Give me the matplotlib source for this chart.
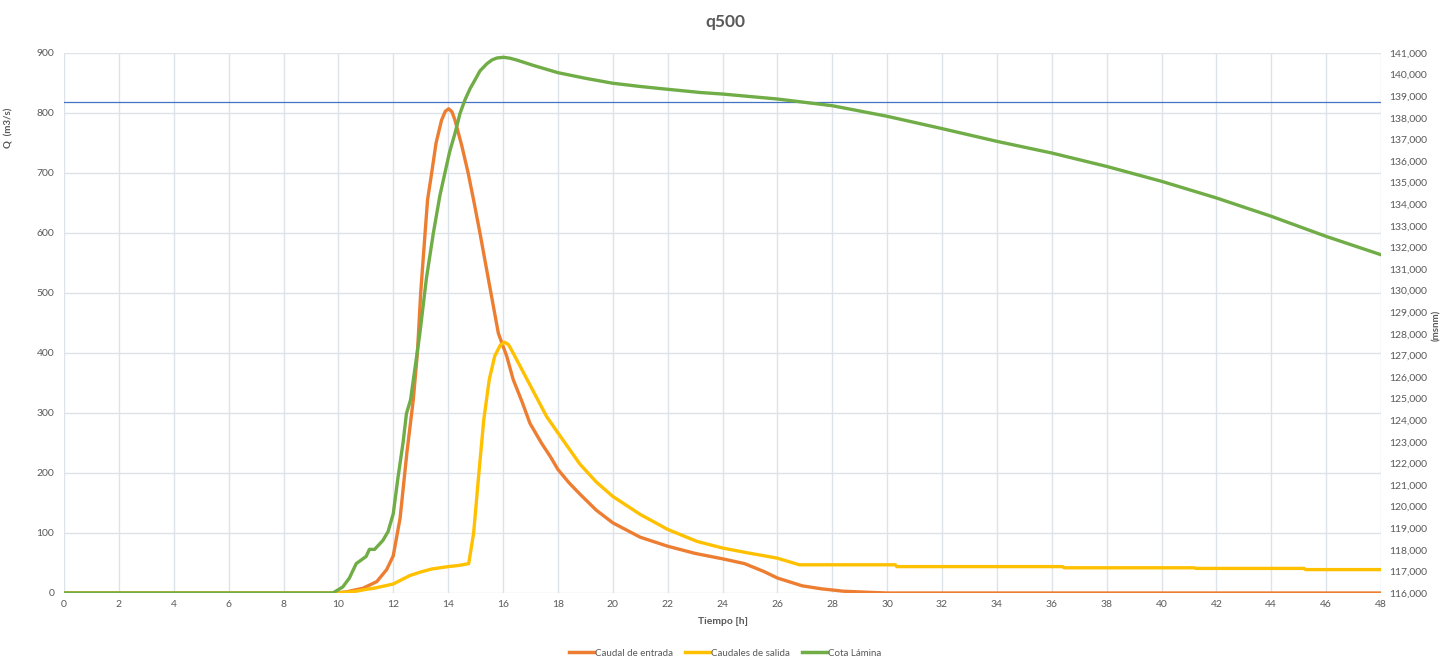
import matplotlib
matplotlib.use("Agg")
import matplotlib.pyplot as plt
from matplotlib.ticker import MultipleLocator, FuncFormatter
from matplotlib.lines import Line2D

plt.rcParams['font.family'] = ['Lato', 'DejaVu Sans']

# ---- data ----
title = "q500"
x_label = "Tiempo [h]"
y_label = "Q  (m3/s)"
y2_label = "(msnm)"
series_names = ["Caudal de entrada", "Caudales de salida", "Cota Lámina"]

t_in = [0, 9.9, 10.3, 10.9, 11.4, 11.76, 12.0, 12.25, 12.5, 12.73, 12.88, 13.0, 13.16, 13.25,
        13.4, 13.56, 13.76, 13.9, 14.02, 14.14, 14.25, 14.5, 14.73, 14.95, 15.16, 15.52, 15.83,
        16.14, 16.37, 16.7, 16.98, 17.4, 17.73, 18.0, 18.4, 18.8, 19.4, 20.0, 21.0, 22.0, 23.0,
        24.0, 24.8, 25.5, 26.0, 26.9, 27.6, 28.4, 29.4, 30.0, 48]
q_in = [0, 0, 2, 8, 19, 39, 62, 125, 235, 322, 400, 500, 600, 655,
        700, 750, 788, 803, 807, 802, 788, 745, 700, 650, 600, 510, 433,
        394, 356, 318, 283, 250, 227, 206, 184, 165, 138, 117, 93, 78, 66,
        57, 49, 36, 25, 12, 7, 3, 1, 0, 0]

t_out = [0, 10.0, 10.65, 11.0, 11.3, 12.0, 12.3, 12.6, 13.0, 13.4, 14.0, 14.4, 14.75, 14.93,
         15.1, 15.3, 15.5, 15.7, 15.9, 16.06, 16.2, 16.37, 16.98, 17.59, 18.0, 18.8, 19.4, 20.0,
         21.0, 22.0, 23.07, 24.0, 24.9, 25.4, 26.0, 26.8, 30.3, 30.35, 36.4, 36.45, 41.2, 41.25,
         45.2, 45.25, 48]
q_out = [0, 0, 3, 6, 8, 15, 22, 29, 35, 40, 44, 46, 49, 100,
         189, 289, 356, 395, 413, 418, 414, 400, 347, 294, 267, 215, 185, 161,
         131, 106, 86, 75, 67, 63, 58, 47, 47, 44, 44, 42, 42, 41,
         41, 39, 39]

t_z = [0, 9.8, 10.16, 10.4, 10.65, 11.01, 11.13, 11.32, 11.62, 11.81, 12.0, 12.17, 12.36, 12.48,
       12.63, 12.97, 13.21, 13.46, 13.7, 13.88, 14.05, 14.25, 14.43, 14.61, 14.8, 15.0, 15.16,
       15.41, 15.6, 15.78, 16.02, 16.25, 16.51, 17.12, 18.0, 19.0, 20.0, 21.0, 22.0, 23.2, 24,
       26, 28, 30, 32, 34, 36, 38, 40, 42, 44, 46, 48]
z = [116, 116, 116.28, 116.69, 117.36, 117.69, 118.02, 118.02, 118.43, 118.84, 119.67, 121.32,
     122.98, 124.3, 124.94, 128.02, 130.58, 132.65, 134.4, 135.43, 136.4, 137.28, 138.19, 138.82,
     139.35, 139.8, 140.17, 140.5, 140.68, 140.77, 140.8, 140.76, 140.67, 140.42, 140.09, 139.83,
     139.6, 139.45, 139.32, 139.17, 139.10, 138.87, 138.56, 138.07, 137.5, 136.91, 136.37,
     135.75, 135.06, 134.29, 133.44, 132.51, 131.66]

umbral_q = 818

# ---- style ----
c_in = "#ED7D31"
c_out = "#FFC000"
c_z = "#70AD47"
c_line = "#4472C4"
c_text = "#595959"
c_grid = "#DEE2E9"

fig = plt.figure(figsize=(14.5, 6.6), dpi=100)
ax = fig.add_axes([64 / 1450, 1 - 593 / 660, (1381 - 64) / 1450, (593 - 53) / 660])
ax2 = ax.twinx()

kw = dict(lw=2.4, solid_capstyle='round', solid_joinstyle='round', zorder=3)
ax.plot(t_in, q_in, color=c_in, **kw)
ax.plot(t_out, q_out, color=c_out, **kw)
ax.axhline(umbral_q, color=c_line, lw=0.9, zorder=4)
ax2.plot(t_z, z, color=c_z, **kw)

ax.set_xlim(0, 48)
ax.set_ylim(0, 900)
ax2.set_ylim(116, 141)
ax.xaxis.set_major_locator(MultipleLocator(2))
ax.yaxis.set_major_locator(MultipleLocator(100))
ax2.yaxis.set_major_locator(MultipleLocator(1))
ax2.yaxis.set_major_formatter(FuncFormatter(lambda v, p: f"{v:.3f}".replace('.', ',')))

ax.grid(True, color=c_grid, lw=1.0, zorder=0)
ax.set_axisbelow(True)
for a in (ax, ax2):
    for s in a.spines.values():
        s.set_visible(False)
    a.tick_params(length=0, labelsize=7.5, labelcolor=c_text)
ax.tick_params(axis='y', pad=7)
ax.tick_params(axis='x', pad=5)
ax2.tick_params(axis='y', pad=6)

ax.set_xlabel(x_label, fontsize=7.5, fontweight='bold', color=c_text, labelpad=6)
ax.set_ylabel(y_label, fontsize=7, fontweight='bold', color=c_text)
ax.yaxis.set_label_coords(-0.038, 0.861)
ax2.set_ylabel(y2_label, fontsize=7, fontweight='bold', color=c_text, rotation=90)
ax2.yaxis.set_label_coords(1.0387, 0.496)

fig.text(0.5, 1 - 22 / 660, title, ha='center', va='center', fontsize=12.5,
         fontweight='bold', color=c_text)

handles = [Line2D([], [], color=c_in, lw=2.5),
           Line2D([], [], color=c_out, lw=2.5),
           Line2D([], [], color=c_z, lw=2.5)]
fig.legend(handles, series_names, loc='center', bbox_to_anchor=(0.5, 1 - 653 / 660), ncol=3,
           frameon=False, fontsize=7, labelcolor=c_text, handlelength=2.6, handletextpad=0.1,
           columnspacing=1.2)

fig.savefig("out.png", dpi=100)
